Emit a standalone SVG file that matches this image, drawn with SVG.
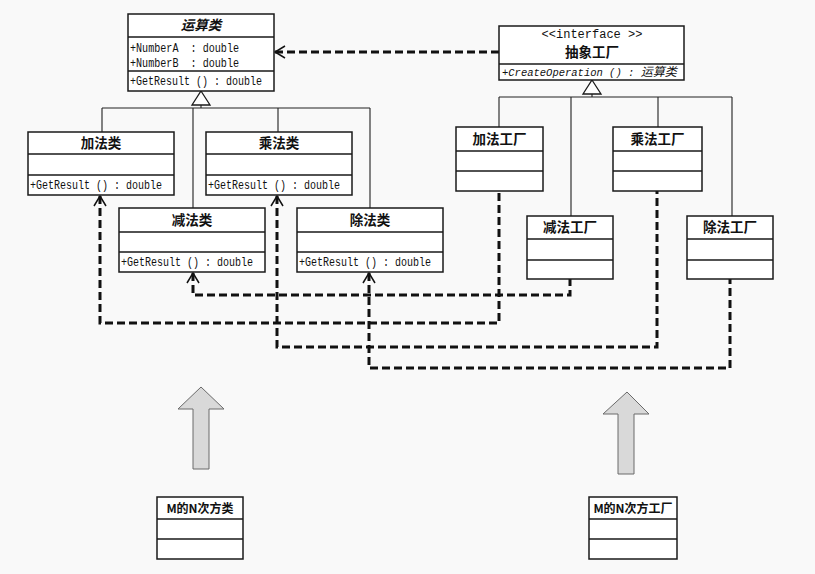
<svg xmlns="http://www.w3.org/2000/svg" width="815" height="574" viewBox="0 0 815 574">
<style>
.bg{fill:#f9f9f9}
.box{fill:#ffffff;stroke:#1a1a1a;stroke-width:1.5}
.div{stroke:#1a1a1a;stroke-width:1.5;fill:none}
.gen{stroke:#222;stroke-width:1.1;fill:none}
.tri{fill:#ffffff;stroke:#1a1a1a;stroke-width:1.3}
.dep{stroke:#111;stroke-width:3;fill:none;stroke-dasharray:8 4}
.title{font-family:"Noto Sans CJK SC","Noto Sans",sans-serif;font-weight:700;font-size:13.5px;fill:#111;text-anchor:middle}
.mono{font-family:"Liberation Mono","DejaVu Sans Mono",monospace;font-size:12.5px;fill:#111;white-space:pre}
.big{fill:#d9d9d9;stroke:#6a6a6a;stroke-width:1}
</style>
<defs>
<marker id="open" viewBox="0 0 12 14" refX="11" refY="7" markerWidth="12" markerHeight="14" markerUnits="userSpaceOnUse" orient="auto-start-reverse">
<path d="M1,1 L11,7 L1,13" fill="none" stroke="#111" stroke-width="1.5"/>
</marker>
</defs>
<rect class="bg" x="0" y="0" width="815" height="574"/>

<g id="connectors">
<path class="gen" d="M201,105 V108 M102,108 H370 M102,108 V132 M193,108 V208 M278,108 V132 M370,108 V208"/>
<polygon class="tri" points="201,91 210,105 192,105"/>
<path class="gen" d="M592,94 V97 M499,97 H732 M499,97 V127 M571,97 V216 M658,97 V127 M732,97 V216"/>
<polygon class="tri" points="592,80 601,94 583,94"/>
<path class="dep" d="M275,52 H499" marker-start="url(#open)"/>
<path class="dep" d="M100,196 V323 H499 V191" marker-start="url(#open)"/>
<path class="dep" d="M193,273 V295 H570 V279" marker-start="url(#open)"/>
<path class="dep" d="M277,196 V347 H657 V191" marker-start="url(#open)"/>
<path class="dep" d="M369,273 V368 H730 V279" marker-start="url(#open)"/>
<polygon class="big" points="201,387 224,409 209,409 209,469 193,469 193,409 178,409"/>
<polygon class="big" points="627,392 649,414 634,414 634,474 618,474 618,414 603,414"/>
</g>

<g id="operation">
<rect class="box" x="128" y="14" width="146" height="77"/>
<path class="div" d="M128,37 H274 M128,71 H274"/>
<text class="title" x="201" y="30" style="font-style:italic">运算类</text>
<text class="mono" x="130" y="52" textLength="109" lengthAdjust="spacingAndGlyphs">+NumberA  : double</text>
<text class="mono" x="130" y="67" textLength="109" lengthAdjust="spacingAndGlyphs">+NumberB  : double</text>
<text class="mono" x="130" y="85" textLength="132" lengthAdjust="spacingAndGlyphs">+GetResult () : double</text>
</g>

<g id="add">
<rect class="box" x="28" y="132" width="146" height="63"/>
<path class="div" d="M28,154 H174 M28,175 H174"/>
<text class="title" x="101" y="148">加法类</text>
<text class="mono" x="30" y="189" textLength="132" lengthAdjust="spacingAndGlyphs">+GetResult () : double</text>
</g>

<g id="mul">
<rect class="box" x="206" y="132" width="146" height="63"/>
<path class="div" d="M206,154 H352 M206,175 H352"/>
<text class="title" x="279" y="148">乘法类</text>
<text class="mono" x="208" y="189" textLength="132" lengthAdjust="spacingAndGlyphs">+GetResult () : double</text>
</g>

<g id="sub">
<rect class="box" x="119" y="208" width="146" height="64"/>
<path class="div" d="M119,232 H265 M119,252 H265"/>
<text class="title" x="192" y="225">减法类</text>
<text class="mono" x="121" y="266" textLength="132" lengthAdjust="spacingAndGlyphs">+GetResult () : double</text>
</g>

<g id="div">
<rect class="box" x="297" y="208" width="146" height="64"/>
<path class="div" d="M297,232 H443 M297,252 H443"/>
<text class="title" x="370" y="225">除法类</text>
<text class="mono" x="299" y="266" textLength="132" lengthAdjust="spacingAndGlyphs">+GetResult () : double</text>
</g>

<g id="abstractFactory">
<rect class="box" x="499" y="26" width="185" height="54"/>
<path class="div" d="M499,64 H684"/>
<text class="mono" x="592" y="38" style="font-size:12px;text-anchor:middle">&lt;&lt;interface &gt;&gt;</text>
<text class="title" x="592" y="57">抽象工厂</text>
<text class="mono" x="502" y="76" style="font-size:10.5px;font-style:italic">+CreateOperation () : <tspan style="font-family:'Noto Sans CJK SC',sans-serif;font-size:12px">运算类</tspan></text>
</g>

<g id="addFactory">
<rect class="box" x="456" y="127" width="87" height="64"/>
<path class="div" d="M456,151 H543 M456,171 H543"/>
<text class="title" x="499.5" y="144">加法工厂</text>
</g>

<g id="mulFactory">
<rect class="box" x="613" y="127" width="89" height="64"/>
<path class="div" d="M613,151 H702 M613,171 H702"/>
<text class="title" x="657.5" y="144">乘法工厂</text>
</g>

<g id="subFactory">
<rect class="box" x="527" y="216" width="86" height="63"/>
<path class="div" d="M527,239 H613 M527,260 H613"/>
<text class="title" x="570" y="232">减法工厂</text>
</g>

<g id="divFactory">
<rect class="box" x="687" y="216" width="86" height="63"/>
<path class="div" d="M687,239 H773 M687,260 H773"/>
<text class="title" x="730" y="232">除法工厂</text>
</g>

<g id="powClass">
<rect class="box" x="157" y="497" width="86" height="62"/>
<path class="div" d="M157,519 H243 M157,539 H243"/>
<text class="title" x="200" y="513" style="font-size:12px">M的N次方类</text>
</g>

<g id="powFactory">
<rect class="box" x="589" y="497" width="88" height="62"/>
<path class="div" d="M589,519 H677 M589,539 H677"/>
<text class="title" x="633" y="513" style="font-size:12px">M的N次方工厂</text>
</g>
</svg>
